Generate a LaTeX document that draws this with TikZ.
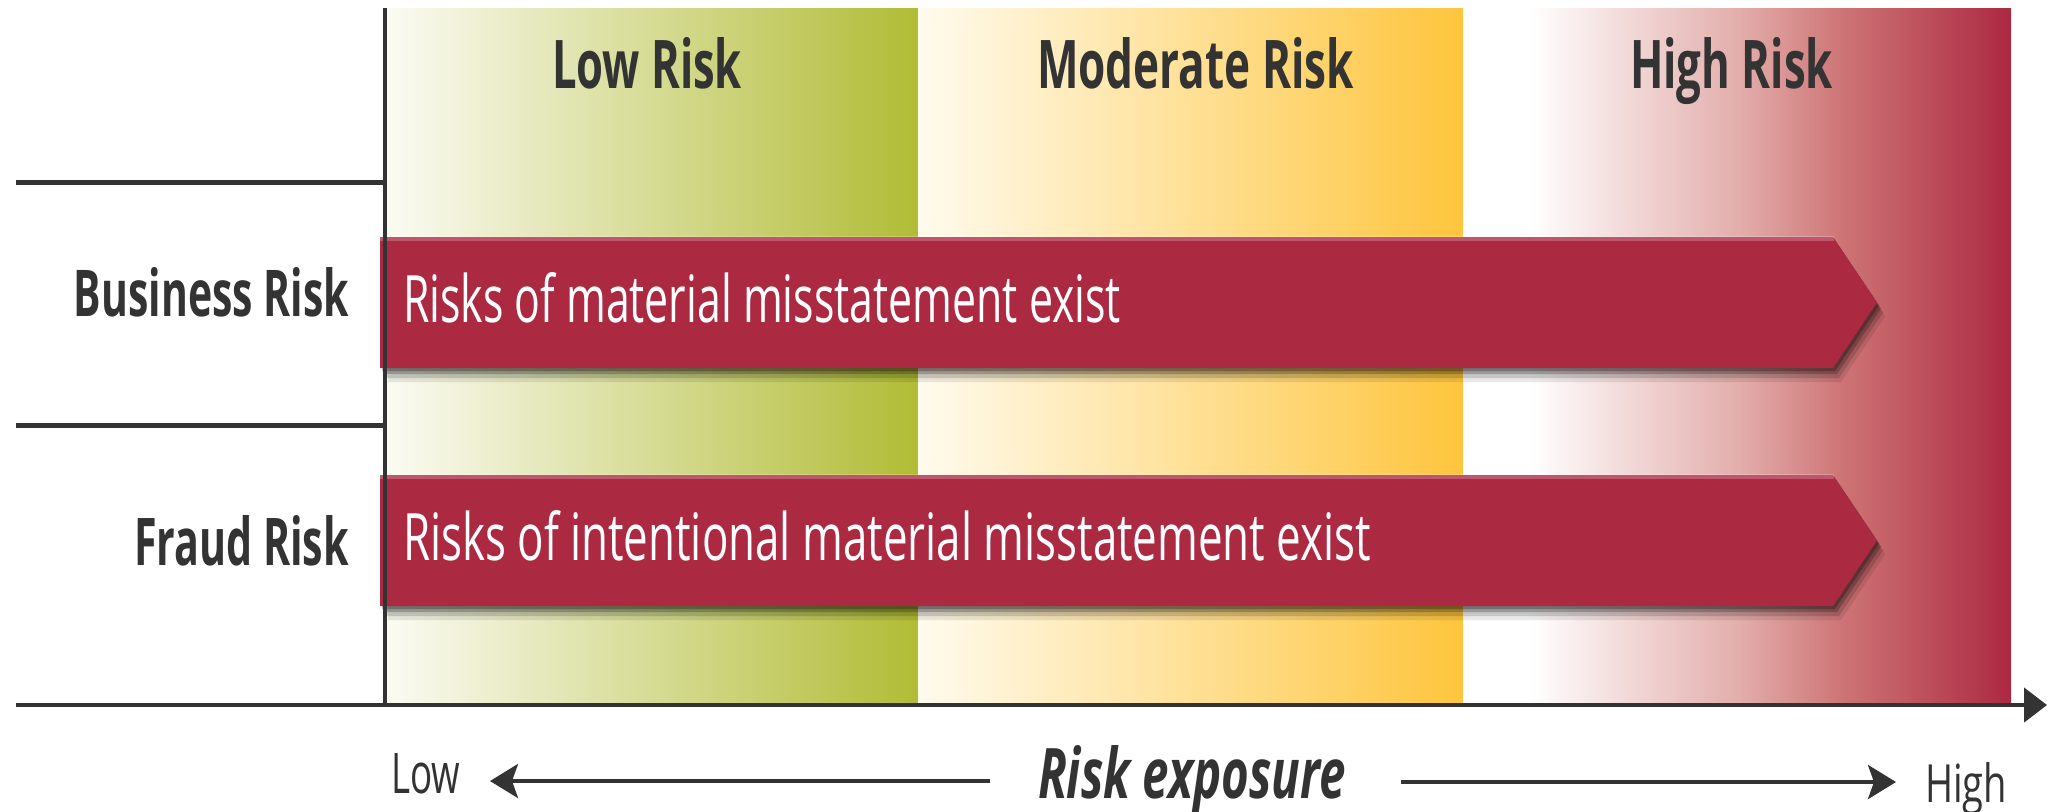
\documentclass[tikz,border=0pt]{standalone}
\usepackage{fontspec}
\setmainfont{Open Sans}
\usepackage{graphicx}
\usetikzlibrary{arrows.meta}
\newdimen\px \px=0.5pt
\newcommand{\fitt}[3]{\resizebox{#1\px}{#2\px}{#3}}
\newcommand{\barpath}[2]{(380,#1) -- (1833,#1) -- (1877,{(#1+#2)/2}) -- (1833,#2) -- (380,#2) -- cycle}
\definecolor{crim}{RGB}{172,41,66}
\definecolor{olive}{RGB}{177,188,53}
\definecolor{lowL}{RGB}{251,251,244}
\definecolor{lowM}{RGB}{224,228,178}
\definecolor{modL}{RGB}{255,251,238}
\definecolor{modM}{RGB}{254,232,176}
\definecolor{amber}{RGB}{254,197,61}
\definecolor{highA}{RGB}{226,172,170}
\definecolor{highB}{RGB}{206,117,118}
\definecolor{dark}{RGB}{51,51,51}
\tikzset{
  lbl/.style={inner sep=0pt, outer sep=0pt, anchor=base west, text=dark},
  bartext/.style={inner sep=0pt, outer sep=0pt, anchor=base west, text=white},
  axisline/.style={draw=dark, line width=2.25pt},
  vline/.style={draw=dark, line width=1.75pt},
  rowline/.style={draw=dark, line width=2.5pt},
  exparrow/.style={draw=dark, line width=2pt, -{Stealth[length=14pt,width=17pt,inset=3pt]}},
}
\begin{document}
\begin{tikzpicture}[x=0.5pt,y=-0.5pt]
\useasboundingbox (0,0) rectangle (2048,811);
\fill[white] (0,0) rectangle (2048,811);
% bands
\shade[left color=lowL, middle color=lowM, right color=olive] (386,8) rectangle (918,703);
\shade[left color=modL, middle color=modM, right color=amber] (918,8) rectangle (1463,703);
\fill[white] (1463,8) rectangle (1531,703);
\shade[left color=white, right color=highA] (1530,8) rectangle (1743,703);
\shade[left color=highA, right color=highB] (1742,8) rectangle (1841,703);
\shade[left color=highB, right color=crim] (1840,8) rectangle (2011,703);
% bar shadows
\foreach \dx/\dy/\op in {2/3/0.25, 4/6/0.22, 6/10/0.15, 8/14/0.09}{
  \fill[black, opacity=\op, shift={(\dx,\dy)}] \barpath{237}{368};
  \fill[black, opacity=\op, shift={(\dx,\dy)}] \barpath{475}{606};
}
% bars
\fill[crim] \barpath{237}{368};
\fill[crim] \barpath{475}{606};
\fill[white, opacity=0.22] (380,236) rectangle (1834,241);
\fill[white, opacity=0.22] (380,474) rectangle (1834,479);
% axes and row lines
\coordinate (vtop) at (385,8);
\coordinate (vbot) at (385,705);
\coordinate (r1a) at (16,182);
\coordinate (r1b) at (385,182);
\coordinate (r2a) at (16,425);
\coordinate (r2b) at (385,425);
\coordinate (hstart) at (16,705);
\coordinate (hend) at (2047,705);
\draw[vline] (vtop) -- (vbot);
\draw[rowline] (r1a) -- (r1b);
\draw[rowline] (r2a) -- (r2b);
\draw[axisline, -{Triangle[length=11.5pt,width=17pt]}] (hstart) -- (hend);
% headers
\node[lbl] (lowrisk) at (552,88) {\fitt{190}{51}{\bfseries Low Risk}};
\node[lbl] (modrisk) at (1037,88) {\fitt{317}{51}{\bfseries Moderate Risk}};
\node[lbl] (highrisk) at (1630,88) {\fitt{203}{51}{\bfseries High Risk}};
% row labels
\node[lbl] (busrisk) at (74,316) {\fitt{275}{49}{\bfseries Business Risk}};
\node[lbl] (fraudrisk) at (134,565) {\fitt{215}{50}{\bfseries Fraud Risk}};
% bar texts
\node[bartext] (bustext) at (403,322) {\fitt{718}{50}{Risks of material misstatement exist}};
\node[bartext] (fraudtext) at (403,560) {\fitt{968}{50}{Risks of intentional material misstatement exist}};
% bottom axis labels
\node[lbl] (lowlab) at (391,793) {\fitt{69}{40}{Low}};
\node[lbl] (highlab) at (1925,802) {\fitt{82}{40}{High}};
\node[lbl] (expo) at (1038,798) {\fitt{308}{53}{\bfseries\itshape Risk exposure}};
\coordinate (la) at (990,781);
\coordinate (lt) at (490,781);
\coordinate (ra) at (1401,782);
\coordinate (rt) at (1896,782);
\draw[exparrow] (la) -- (lt);
\draw[exparrow] (ra) -- (rt);
\end{tikzpicture}
\end{document}
